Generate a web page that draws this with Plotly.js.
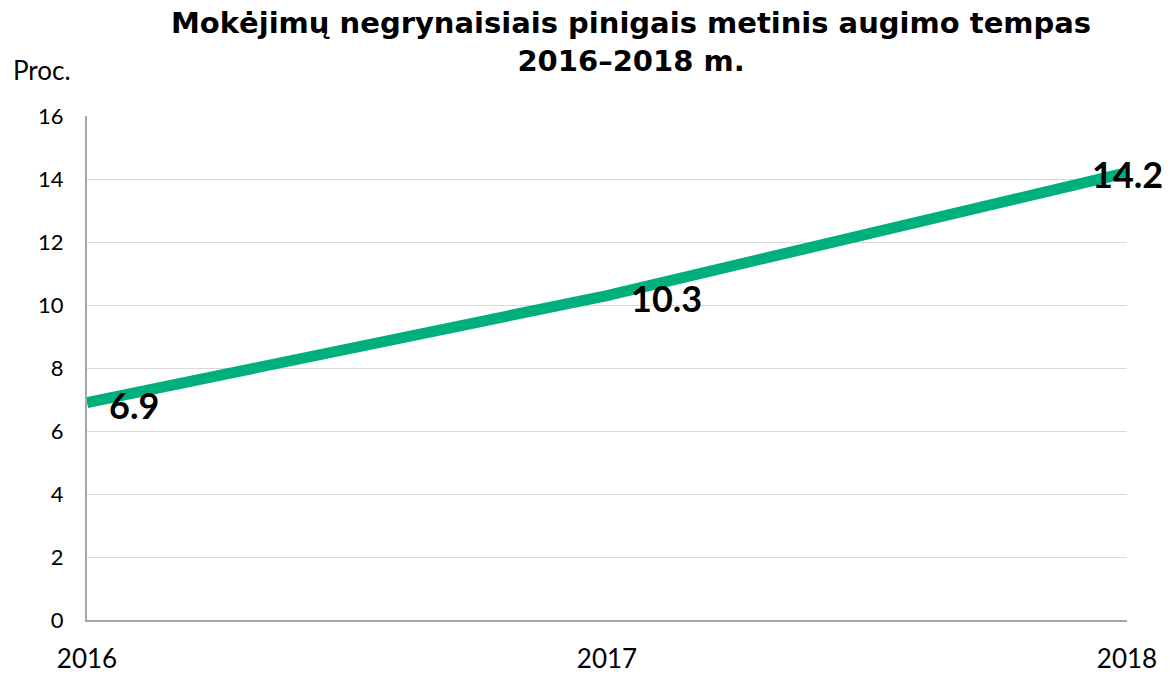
<!DOCTYPE html>
<html>
<head>
<meta charset="utf-8">
<script src="https://cdn.plot.ly/plotly-3.0.1.min.js"></script>
<style>html,body{margin:0;padding:0;background:#fff;}#chart{width:1170px;height:674px;}</style>
</head>
<body>
<div id="chart"></div>
<script>
const years = [2016, 2017, 2018];
const growth = [6.9, 10.3, 14.2];
const yTicks = [0, 2, 4, 6, 8, 10, 12, 14, 16];
const xTickLabels = ['2016', '2017', '2018'];
const titleText = '<b>Mokėjimų negrynaisiais pinigais metinis augimo tempas<br>2016–2018 m.</b>';
const yUnit = 'Proc.';

const labelStyle = [
  {xanchor: 'left', xshift: 20, yshift: -2},
  {xanchor: 'left', xshift: 22, yshift: -2},
  {xanchor: 'center', xshift: 0, yshift: -1}
];

const trace = {
  x: years, y: growth, type: 'scatter', mode: 'lines',
  line: {color: '#00B07C', width: 11, shape: 'spline', smoothing: 0.4},
  cliponaxis: false, hoverinfo: 'skip'
};

const annotations = years.map((yr, i) => ({
  x: yr, y: growth[i], xref: 'x', yref: 'y',
  text: '<b>' + growth[i].toFixed(1) + '</b>', showarrow: false,
  xanchor: labelStyle[i].xanchor, yanchor: 'middle',
  xshift: labelStyle[i].xshift, yshift: labelStyle[i].yshift,
  font: {family: 'Lato, sans-serif', size: 36, color: '#000'}
}));
annotations.push({
  xref: 'paper', yref: 'paper', x: -0.073, y: 1.055, xanchor: 'left', yanchor: 'bottom',
  text: yUnit, showarrow: false,
  font: {family: 'Lato, sans-serif', size: 26, color: '#000'}
});
annotations.push({
  xref: 'paper', yref: 'paper', x: 0.523, y: 1.222, xanchor: 'center', yanchor: 'top',
  text: titleText, showarrow: false, align: 'center',
  font: {family: 'DejaVu Sans, Verdana, sans-serif', size: 29, color: '#000'}
});

const layout = {
  width: 1170, height: 674,
  margin: {l: 87, r: 43, t: 116, b: 54},
  paper_bgcolor: '#fff', plot_bgcolor: '#fff',
  showlegend: false,
  xaxis: {range: [2016, 2018], tickvals: years, ticktext: xTickLabels,
          showgrid: false, zeroline: false, showline: true, linecolor: '#a6a6a6', linewidth: 2,
          ticks: '', ticklabelstandoff: 15,
          tickfont: {family: 'Lato, sans-serif', size: 26, color: '#000'}},
  yaxis: {range: [0, 16], tickvals: yTicks, showgrid: true, gridcolor: '#d9d9d9', gridwidth: 1,
          zeroline: false, showline: true, linecolor: '#a6a6a6', linewidth: 2,
          ticks: '', ticklabelstandoff: 17,
          tickfont: {family: 'Lato, sans-serif', size: 22, color: '#000'}},
  annotations: annotations
};

Plotly.newPlot('chart', [trace], layout, {displayModeBar: false, staticPlot: true});
</script>
</body>
</html>
